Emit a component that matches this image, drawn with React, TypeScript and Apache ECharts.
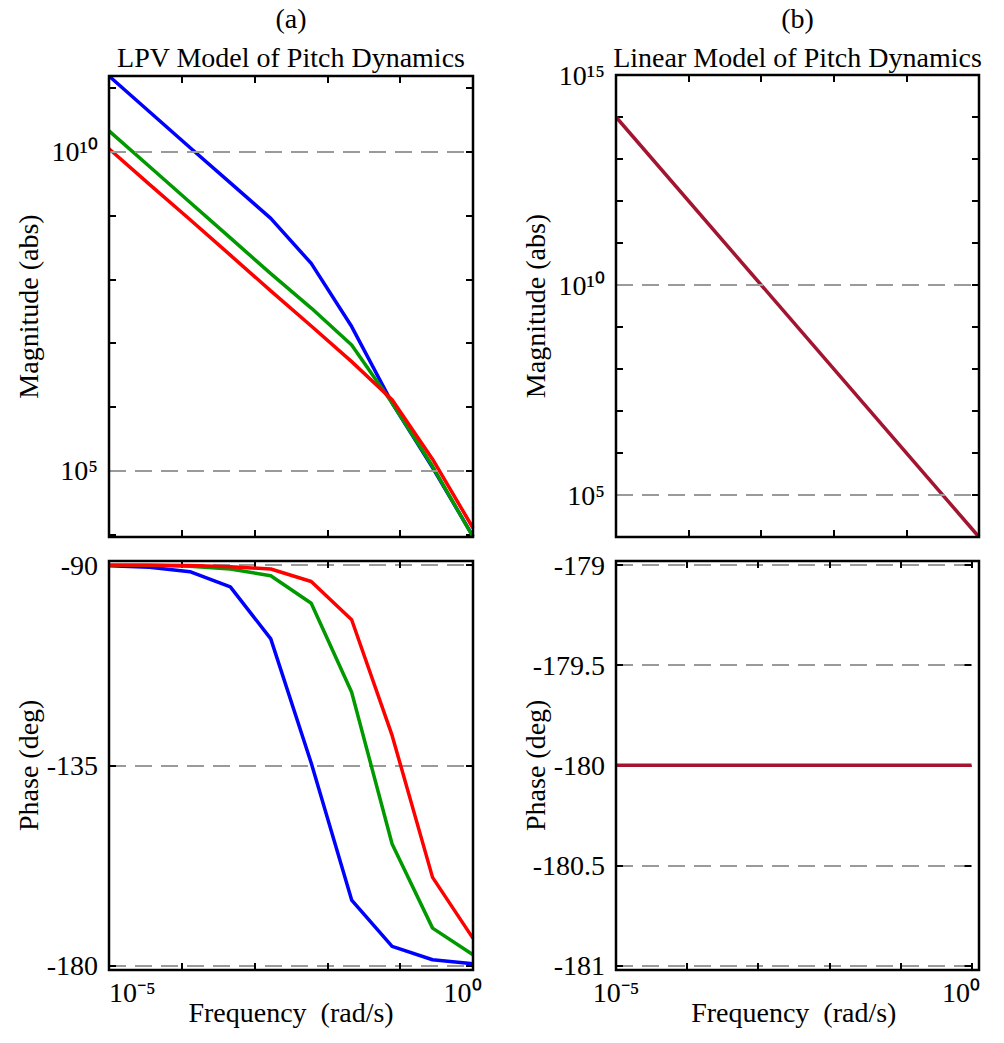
import React, { useEffect, useRef } from 'react';
import * as echarts from 'echarts';

// ---------- data ----------
const freq = [1e-5, 3.594e-5, 1.292e-4, 4.642e-4, 1.668e-3, 5.995e-3, 2.154e-2, 7.743e-2, 2.783e-1, 1];
const magBlue = [1.55e11, 4.27e10, 1.17e10, 3.27e9, 9.04e8, 1.78e8, 1.82e7, 1.15e6, 1.12e5, 9.3e3];
const magGreen = [2.14e10, 5.89e9, 1.62e9, 4.47e8, 1.23e8, 3.55e7, 9.33e6, 1.15e6, 1.17e5, 9.1e3];
const magRed = [1.12e10, 3.09e9, 8.71e8, 2.4e8, 6.61e7, 1.86e7, 5.13e6, 1.29e6, 1.51e5, 1.26e4];
const phaseBlue = [-90.15, -90.5, -91.5, -94.9, -106.6, -134.5, -165.3, -175.7, -178.7, -179.6];
const phaseGreen = [-90.0, -90.05, -90.3, -90.9, -92.4, -98.6, -118.6, -152.7, -171.6, -177.6];
const phaseRed = [-90.0, -90.0, -90.1, -90.4, -90.9, -93.7, -102.3, -128.3, -160.2, -173.9];

const linFreq = [1e-5, 1];
const linMag = [1e14, 1e4];
const linPhase = [-180, -180];

const magGridLines = [1e5, 1e10];
const magLabelsA = [1e5, 1e10];
const magLabelsB = [1e5, 1e10, 1e15];
const freqLabels = [1e-5, 1];

const titlesTop = ['(a)', '(b)'];
const titles = ['LPV Model of Pitch Dynamics', 'Linear Model of Pitch Dynamics'];

// ---------- styles ----------
const FONT = "'Liberation Serif', 'Times New Roman', serif";
const FS = 28;
const BLUE = '#0000ff';
const GREEN = '#009900';
const RED = '#ff0000';
const MAROON = '#a2142f';
const DASH = { color: '#9a9a9a', width: 2, type: [17, 9] as any };

const cols = [
  { left: 109, right: 473 },
  { left: 616, right: 979 },
];
const magTop = [76, 75];
const magBottom = 537;
const phTop = 565;
const phBottom = 965.5;
const frameTop = 561;
const frameBottom = 970;

const SUP: Record<string, string> = {
  '0': '\u2070', '1': '\u00b9', '2': '\u00b2', '3': '\u00b3', '4': '\u2074',
  '5': '\u2075', '6': '\u2076', '7': '\u2077', '8': '\u2078', '9': '\u2079', '-': '\u207b',
};
const sup = (n: number) => String(n).split('').map((c) => SUP[c] || c).join('');

const isPow = (v: number, list: number[]) => {
  const e = Math.log10(v);
  const r = Math.round(e);
  if (Math.abs(e - r) > 1e-6) return null;
  return list.some((a) => Math.abs(Math.log10(a) - r) < 1e-6) ? r : null;
};

const powFormatter = (list: number[], shiftMax = false) => (v: number) => {
  const r = isPow(v, list);
  if (r === null) return '';
  if (shiftMax && r === 0) return `10${sup(r)}   `;
  return `10${sup(r)}`;
};

const tick = { show: true, inside: true, length: 7, lineStyle: { color: '#000', width: 2 } };

function App() {
  const ref = useRef<HTMLDivElement>(null);
  useEffect(() => {
    document.body.style.margin = '0';
    if (!ref.current) return;
    const chart = echarts.init(ref.current, null, { renderer: 'svg' });

    const grids = [
      { left: cols[0].left, top: magTop[0], width: cols[0].right - cols[0].left, height: magBottom - magTop[0] },
      { left: cols[0].left, top: phTop, width: cols[0].right - cols[0].left, height: phBottom - phTop },
      { left: cols[1].left, top: magTop[1], width: cols[1].right - cols[1].left, height: magBottom - magTop[1] },
      { left: cols[1].left, top: phTop, width: cols[1].right - cols[1].left, height: phBottom - phTop },
    ];

    const nameStyle = { fontFamily: FONT, fontSize: FS, color: '#000' };
    const labelStyle = { fontFamily: FONT, fontSize: FS, color: '#000' };
    const xAxes: any[] = [];
    const yAxes: any[] = [];
    grids.forEach((g, gi) => {
      const isPhase = gi % 2 === 1;
      xAxes.push({
        type: 'log', gridIndex: gi, min: 1e-5, max: 1, position: 'bottom', offset: isPhase ? frameBottom - phBottom : 0,
        axisLine: { show: false }, axisTick: tick, splitLine: { show: false },
        axisLabel: isPhase
          ? { show: true, formatter: powFormatter(freqLabels, true), ...labelStyle, margin: 8, alignMinLabel: gi === 1 ? 'left' : 'center' }
          : { show: false },
        name: isPhase ? 'Frequency  (rad/s)' : '', nameLocation: 'middle', nameGap: 28, nameMoveOverlap: false,
        nameTextStyle: nameStyle,
      });
      xAxes.push({
        type: 'log', gridIndex: gi, min: 1e-5, max: 1, position: 'top', offset: isPhase ? phTop - frameTop : 0,
        axisLine: { show: false }, axisTick: tick, splitLine: { show: false }, axisLabel: { show: false },
      });
      let yBase: any;
      if (gi === 0) yBase = { type: 'log', min: 9.1e3, max: 1.55e11 };
      else if (gi === 2) yBase = { type: 'log', min: 1e4, max: 1e15, interval: 1 };
      else if (gi === 1) yBase = { type: 'value', min: -180, max: -90, interval: 45 };
      else yBase = { type: 'value', min: -181, max: -179, interval: 0.5 };
      yAxes.push({
        ...yBase, gridIndex: gi, position: 'left', axisLine: { show: false }, axisTick: tick,
        splitLine: isPhase ? { show: true, lineStyle: DASH } : { show: false },
        axisLabel: isPhase
          ? { show: true, ...labelStyle, margin: 11 }
          : { show: true, formatter: powFormatter(gi === 0 ? magLabelsA : magLabelsB), ...labelStyle, margin: 11 },
        name: isPhase ? 'Phase (deg)' : 'Magnitude (abs)', nameLocation: 'middle', nameGap: 67, nameMoveOverlap: false,
        nameTextStyle: nameStyle,
      });
      yAxes.push({
        ...yBase, gridIndex: gi, position: 'right', axisLine: { show: false }, axisTick: tick,
        splitLine: { show: false }, axisLabel: { show: false },
      });
    });

    const pairs = (xs: number[], ys: number[]) => xs.map((x, i) => [x, ys[i]]);
    const lineSeries = (gi: number, data: number[][], color: string) => ({
      type: 'line', xAxisIndex: gi * 2, yAxisIndex: gi * 2, data, showSymbol: false,
      lineStyle: { color, width: 3.5 }, itemStyle: { color }, z: 3, silent: true,
    });
    const gridMarks = (gi: number) => ({
      type: 'line', xAxisIndex: gi * 2, yAxisIndex: gi * 2, data: [], z: 1, silent: true,
      markLine: {
        silent: true, symbol: ['none', 'none'], label: { show: false }, lineStyle: DASH,
        data: magGridLines.map((v) => ({ yAxis: v })),
      },
    });

    const series = [
      gridMarks(0),
      lineSeries(0, pairs(freq, magBlue), BLUE),
      lineSeries(0, pairs(freq, magGreen), GREEN),
      lineSeries(0, pairs(freq, magRed), RED),
      lineSeries(1, pairs(freq, phaseBlue), BLUE),
      lineSeries(1, pairs(freq, phaseGreen), GREEN),
      lineSeries(1, pairs(freq, phaseRed), RED),
      gridMarks(2),
      lineSeries(2, pairs(linFreq, linMag), MAROON),
      lineSeries(3, pairs(linFreq, linPhase), MAROON),
    ];

    const graphic: any[] = [];
    cols.forEach((c, i) => {
      const cx = (c.left + c.right) / 2;
      graphic.push({ type: 'text', x: cx, y: 18, silent: true, style: { text: titlesTop[i], fontFamily: FONT, fontSize: FS, fill: '#000', align: 'center', verticalAlign: 'middle' } });
      graphic.push({ type: 'text', x: cx, y: 57, silent: true, style: { text: titles[i], fontFamily: FONT, fontSize: FS, fill: '#000', align: 'center', verticalAlign: 'middle' } });
      graphic.push({ type: 'rect', z: 50, silent: true, shape: { x: c.left, y: magTop[i], width: c.right - c.left, height: magBottom - magTop[i] }, style: { fill: 'none', stroke: '#000', lineWidth: 2.5 } });
      graphic.push({ type: 'rect', z: 50, silent: true, shape: { x: c.left, y: frameTop, width: c.right - c.left, height: frameBottom - frameTop }, style: { fill: 'none', stroke: '#000', lineWidth: 2.5 } });
    });

    chart.setOption({
      animation: false,
      backgroundColor: '#fff',
      textStyle: { fontFamily: FONT },
      grid: grids,
      xAxis: xAxes,
      yAxis: yAxes,
      series,
      graphic,
    });
    return () => chart.dispose();
  }, []);
  return (
    <div>
      <style>{`#bode-chart text { font-family: 'Liberation Serif', 'Times New Roman', serif !important; }`}</style>
      <div id="bode-chart" ref={ref} style={{ width: 1004, height: 1043 }} />
    </div>
  );
}

export default App;
